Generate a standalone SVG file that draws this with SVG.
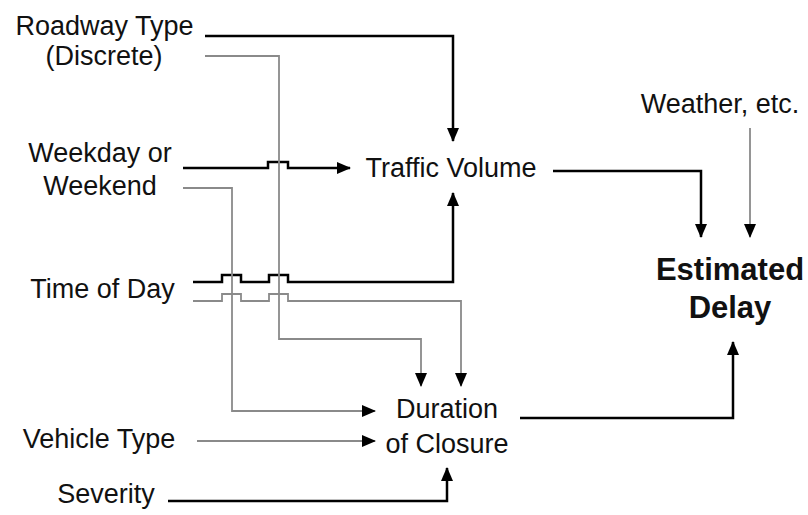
<svg xmlns="http://www.w3.org/2000/svg" width="808" height="515" viewBox="0 0 808 515">
<defs>
<style>
text{font-family:"Liberation Sans",Arial,sans-serif;font-size:27px;fill:#111;text-anchor:middle}
.b{font-weight:bold;font-size:31px}
.k{fill:none;stroke:#000;stroke-width:2.5}
.g{fill:none;stroke:#8a8a8a;stroke-width:1.8}
</style>
<marker id="ah" markerUnits="userSpaceOnUse" markerWidth="14" markerHeight="12" viewBox="0 0 14 12" refX="13" refY="6" orient="auto">
<path d="M0,0 L14,6 L0,12 Z" fill="#000"/>
</marker>
</defs>
<rect width="808" height="515" fill="#fff"/>
<g id="connectors">
<path class="k" d="M205,36 H453 V141" marker-end="url(#ah)"/>
<path class="k" d="M183,168 H268 V162 H288 V168 H350" marker-end="url(#ah)"/>
<path class="k" d="M193,282 H222 V275 H241 V282 H269 V275 H288 V282 H453 V193" marker-end="url(#ah)"/>
<path class="k" d="M553,171 H701 V237" marker-end="url(#ah)"/>
<path class="k" d="M520,418 H733 V342" marker-end="url(#ah)"/>
<path class="k" d="M168,501 H447 V468" marker-end="url(#ah)"/>
<path class="g" d="M205,56 H279 V339 H421 V386" marker-end="url(#ah)"/>
<path class="g" d="M183,188 H232 V411 H375" marker-end="url(#ah)"/>
<path class="g" d="M193,301 H222 V294 H241 V301 H269 V294 H288 V301 H461 V386" marker-end="url(#ah)"/>
<path class="g" d="M197,441 H375" marker-end="url(#ah)"/>
<path class="g" d="M750,128 V237" marker-end="url(#ah)"/>
</g>
<g id="roadway"><text x="104.5" y="35">Roadway Type</text><text x="104" y="65">(Discrete)</text></g>
<g id="weekday"><text x="100" y="162">Weekday or</text><text x="100" y="195">Weekend</text></g>
<g id="time"><text x="102.5" y="298">Time of Day</text></g>
<g id="vehicle"><text x="99" y="448">Vehicle Type</text></g>
<g id="severity"><text x="106" y="503">Severity</text></g>
<g id="traffic"><text x="451" y="177">Traffic Volume</text></g>
<g id="duration"><text x="447" y="418">Duration</text><text x="447" y="453">of Closure</text></g>
<g id="weather"><text x="720" y="113">Weather, etc.</text></g>
<g id="delay"><text class="b" x="730" y="280">Estimated</text><text class="b" x="730" y="318">Delay</text></g>
</svg>
